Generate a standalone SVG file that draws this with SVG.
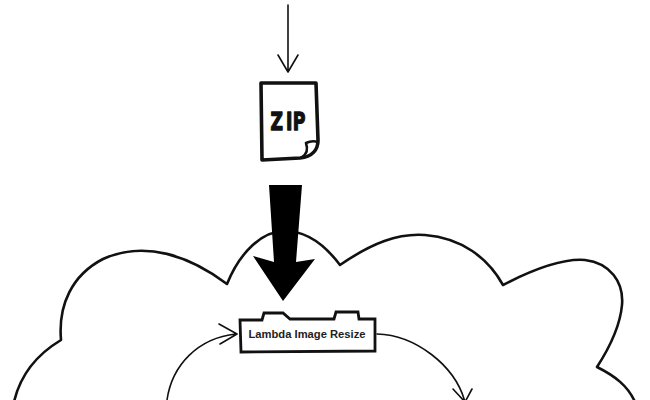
<svg xmlns="http://www.w3.org/2000/svg" width="650" height="400" viewBox="0 0 650 400">
<style>
.o{fill:none;stroke:#111;stroke-linejoin:round;stroke-linecap:round}
.c{stroke-width:1.6}
</style>
<rect width="650" height="400" fill="#fff"/>
<g id="cloud"><path class="o" stroke-width="2.6" stroke-linecap="butt" stroke-linejoin="miter" d="M14 402C20 376 36 355 61 340C58 305 72 275 103 259C145 240 190 256 227 284C240 252 262 231 285 231C307 231 325 245 340 265C372 243 398 233 425 235C462 238 488 258 503 285C530 271 560 258 585 260C610 263 624 282 622 305C620 327 608 350 597 367C615 376 628 386 635 402"/></g>
<g id="connectors">
<path class="o c" d="M288 5V72M278 55L288 72L298 55"/>
<path d="M269 185L302 185L296 262L315 259L283 301L253 256L274 262Z" fill="#000"/>
<path class="o c" d="M167 400C172 365 198 338 236 334M219 324L237 334L220 344"/>
<path class="o c" d="M377 334C415 335 455 365 465 402M453 389L465 402L472 389"/>
</g>
<g id="zip">
<path class="o" stroke-width="3.6" d="M261 83L316 83L318 140C318 150 312 157 300 158L262 160Z"/>
<path class="o" stroke-width="2.6" d="M306 143C310 141 315 141 318 142M306 143C308 149 307 154 302 157"/>
<text transform="translate(270.5 129.5) scale(.72 1)" x="0 21.5 31" font-family="'DejaVu Sans',sans-serif" font-size="24" font-weight="700" fill="#111" stroke="#111" stroke-width="1.3" stroke-linejoin="round">ZIP</text>
</g>
<g id="lambda">
<path d="M240 320L262 320L264 313L283 313L290 319L334 319L336 312L358 312L359 319L375 319L375 351L241 352Z" fill="#fff" stroke="#111" stroke-width="2.8" stroke-linejoin="miter"/>
<text x="307" y="338" text-anchor="middle" font-family="'Liberation Sans',Arial,sans-serif" font-size="10.5" font-weight="700" fill="#222" textLength="117" lengthAdjust="spacingAndGlyphs">Lambda Image Resize</text>
</g>
</svg>
